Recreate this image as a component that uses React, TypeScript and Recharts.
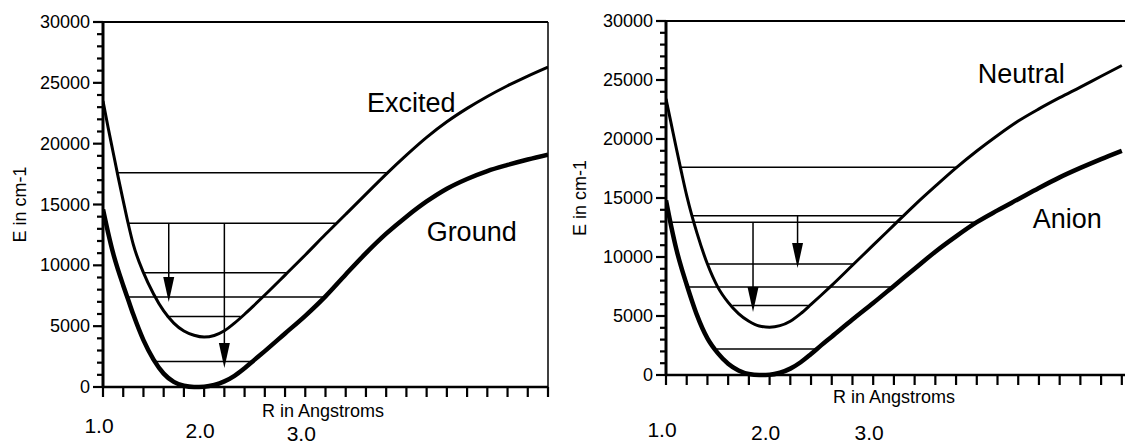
import React from "react";
import {
  LineChart,
  Line,
  XAxis,
  YAxis,
  ReferenceLine,
  ReferenceDot,
  Label,
} from "recharts";

// bond length grid (Angstrom)
const rValues = [
  1.0, 1.05, 1.1, 1.15, 1.2, 1.25, 1.3, 1.4, 1.5, 1.6, 1.7, 1.8, 1.9, 2.0,
  2.1, 2.2, 2.3, 2.4, 2.5, 2.6, 2.8, 3.0, 3.2, 3.4, 3.6, 3.8, 4.0, 4.2, 4.4,
  4.6, 4.8, 5.0, 5.2, 5.4,
];

// left panel, energies in cm-1
const groundCurve = [
  14600, 12700, 11000, 9600, 8350, 7150, 5950, 3850, 2250, 1100, 420, 100, 0,
  30, 170, 460, 920, 1550, 2250, 2950, 4400, 5850, 7450, 9250, 11000, 12600,
  14000, 15250, 16300, 17100, 17750, 18250, 18700, 19100,
];
const excitedCurve = [
  23500, 21350, 19300, 17250, 15300, 13400, 11700, 9400, 7650, 6250, 5250,
  4600, 4250, 4100, 4230, 4620, 5250, 5980, 6760, 7560, 9200, 10850, 12550,
  14200, 15850, 17500, 19060, 20520, 21800, 22900, 23880, 24760, 25560, 26300,
];

// right panel
const anionCurve = [
  14800, 12600, 10650, 9050, 7650, 6300, 5050, 3100, 1850, 950, 380, 80, 0,
  20, 190, 540, 1080, 1780, 2530, 3250, 4700, 6100, 7550, 9000, 10450, 11750,
  12950, 13950, 14900, 15850, 16750, 17550, 18300, 19000,
];
const neutralCurve = [
  23400, 21300, 19200, 17150, 15200, 13500, 12000, 9400, 7450, 6150, 5200,
  4550, 4150, 4050, 4180, 4560, 5200, 5980, 6780, 7600, 9300, 11000, 12700,
  14400, 16000, 17550, 18980, 20300, 21520, 22550, 23500, 24400, 25320, 26230,
];

// vibrational levels: energy, left and right turning points
const leftLevels = [
  { e: 17600, r1: 1.14, r2: 3.81 },
  { e: 13450, r1: 1.245, r2: 3.3 },
  { e: 9400, r1: 1.4, r2: 2.82 },
  { e: 7400, r1: 1.24, r2: 3.18 },
  { e: 5800, r1: 1.63, r2: 2.36 },
  { e: 2100, r1: 1.51, r2: 2.46 },
];
const rightLevels = [
  { e: 17600, r1: 1.135, r2: 3.81 },
  { e: 13500, r1: 1.25, r2: 3.29 },
  { e: 12950, r1: 1.03, r2: 4.0 },
  { e: 9400, r1: 1.4, r2: 2.82 },
  { e: 7450, r1: 1.22, r2: 3.19 },
  { e: 5900, r1: 1.64, r2: 2.37 },
  { e: 2200, r1: 1.49, r2: 2.45 },
];

// transitions
const leftArrows = [
  { r: 1.65, from: 13450, to: 6990 },
  { r: 2.2, from: 13450, to: 1560 },
];
const rightArrows = [
  { r: 1.84, from: 12950, to: 5340 },
  { r: 2.27, from: 13500, to: 9070 },
];

const leftNotes = [
  { text: "Excited", r: 3.61, e: 22600 },
  { text: "Ground", r: 4.2, e: 12000 },
];
const rightNotes = [
  { text: "Neutral", r: 4.01, e: 24750 },
  { text: "Anion", r: 4.54, e: 12460 },
];

const energyTicks = [
  0, 1000, 2000, 3000, 4000, 5000, 6000, 7000, 8000, 9000, 10000, 11000,
  12000, 13000, 14000, 15000, 16000, 17000, 18000, 19000, 20000, 21000, 22000,
  23000, 24000, 25000, 26000, 27000, 28000, 29000, 30000,
];
const rTicks = [
  1.0, 1.2, 1.4, 1.6, 1.8, 2.0, 2.2, 2.4, 2.6, 2.8, 3.0, 3.2, 3.4, 3.6, 3.8,
  4.0, 4.2, 4.4, 4.6, 4.8, 5.0, 5.2, 5.4,
];
const rLabels = [1.0, 2.0, 3.0];

const FONT = "'Liberation Sans', Arial, Helvetica, sans-serif";

const YTick = (props: any) => {
  const { x, y, payload } = props;
  const major = payload.value % 5000 === 0;
  return (
    <g>
      <line x1={x - (major ? 10 : 6)} x2={x} y1={y} y2={y} stroke="#000" strokeWidth={2.2} />
      {major && (
        <text x={x - 13} y={y} dy={6} textAnchor="end" fontSize={18} fill="#000" fontFamily={FONT}>
          {payload.value}
        </text>
      )}
    </g>
  );
};

const XTick = (props: any) => {
  const { x, y, payload, labelDy } = props;
  const idx = rLabels.indexOf(payload.value);
  return (
    <g>
      <line x1={x} x2={x} y1={y} y2={y + 10} stroke="#000" strokeWidth={2.2} />
      {idx >= 0 && (
        <text x={x - 4} y={y + labelDy[idx]} textAnchor="middle" fontSize={21} fill="#000" fontFamily={FONT}>
          {payload.value.toFixed(1)}
        </text>
      )}
    </g>
  );
};

const ArrowShape = (props: any) => {
  const { x1, y1, x2, y2 } = props;
  return (
    <g>
      <line x1={x1} y1={y1} x2={x2} y2={y2 - 20} stroke="#000" strokeWidth={1.5} />
      <polygon points={`${x2 - 5.5},${y2 - 25} ${x2 + 5.5},${y2 - 25} ${x2},${y2}`} fill="#000" />
    </g>
  );
};

interface PanelProps {
  lower: number[];
  upper: number[];
  levels: { e: number; r1: number; r2: number }[];
  arrows: { r: number; from: number; to: number }[];
  notes: { text: string; r: number; e: number }[];
  left: number;
  width: number;
  yAxisWidth: number;
  top: number;
  xAxisHeight: number;
  rightMargin: number;
  rMax: number;
  labelDy: number[];
  titleDx: number;
  titleDy: number;
}

function Panel(p: PanelProps) {
  const data = rValues.map((r, i) => ({ r, lower: p.lower[i], upper: p.upper[i] }));
  return (
    <div style={{ position: "absolute", left: p.left, top: 0 }}>
      <LineChart
        width={p.width}
        height={445}
        data={data}
        margin={{ top: p.top, right: p.rightMargin, bottom: 0, left: 0 }}
      >
        <XAxis
          dataKey="r"
          type="number"
          domain={[1, p.rMax]}
          ticks={rTicks}
          interval={0}
          tickSize={0}
          tickMargin={0}
          tickLine={false}
          height={p.xAxisHeight}
          axisLine={{ stroke: "#000", strokeWidth: 2.5 }}
          tick={<XTick labelDy={p.labelDy} />}
          allowDataOverflow
        >
          <Label
            content={(lp: any) => (
              <text
                x={lp.viewBox.x + p.titleDx}
                y={lp.viewBox.y + p.titleDy}
                fontSize={18}
                fill="#000"
                fontFamily={FONT}
              >
                R in Angstroms
              </text>
            )}
          />
        </XAxis>
        <YAxis
          type="number"
          domain={[0, 30000]}
          ticks={energyTicks}
          interval={0}
          tickSize={0}
          tickMargin={0}
          tickLine={false}
          width={p.yAxisWidth}
          axisLine={{ stroke: "#000", strokeWidth: 3 }}
          tick={<YTick />}
        >
          <Label
            content={(lp: any) => {
              const cx = lp.viewBox.x + 20;
              const cy = lp.viewBox.y + lp.viewBox.height / 2;
              return (
                <text
                  x={cx}
                  y={cy}
                  transform={`rotate(-90, ${cx}, ${cy})`}
                  textAnchor="middle"
                  dominantBaseline="central"
                  fontSize={18}
                  fill="#000"
                  fontFamily={FONT}
                >
                  E in cm-1
                </text>
              );
            }}
          />
        </YAxis>
        <ReferenceLine y={30000} stroke="#000" strokeWidth={2} />
        <ReferenceLine x={p.rMax} stroke="#000" strokeWidth={1.5} />
        {p.levels.map((lv, i) => (
          <ReferenceLine
            key={`lv-${i}`}
            segment={[
              { x: lv.r1, y: lv.e },
              { x: lv.r2, y: lv.e },
            ]}
            stroke="#000"
            strokeWidth={1.5}
          />
        ))}
        {p.arrows.map((a, i) => (
          <ReferenceLine
            key={`ar-${i}`}
            segment={[
              { x: a.r, y: a.from },
              { x: a.r, y: a.to },
            ]}
            shape={ArrowShape}
          />
        ))}
        <Line
          type="monotone"
          dataKey="upper"
          stroke="#000"
          strokeWidth={3}
          dot={false}
          isAnimationActive={false}
        />
        <Line
          type="monotone"
          dataKey="lower"
          stroke="#000"
          strokeWidth={4.5}
          dot={false}
          isAnimationActive={false}
        />
        {p.notes.map((n, i) => (
          <ReferenceDot
            key={`nt-${i}`}
            x={n.r}
            y={n.e}
            r={0}
            shape={(sp: any) => (
              <text x={sp.cx} y={sp.cy} fontSize={27} fill="#000" fontFamily={FONT}>
                {n.text}
              </text>
            )}
          />
        ))}
      </LineChart>
    </div>
  );
}

export default function App() {
  return (
    <div
      style={{
        position: "absolute",
        left: 0,
        top: 0,
        width: 1125,
        height: 445,
        overflow: "hidden",
        background: "#fff",
        fontFamily: FONT,
      }}
    >
      <Panel
        lower={groundCurve}
        upper={excitedCurve}
        levels={leftLevels}
        arrows={leftArrows}
        notes={leftNotes}
        left={0}
        width={560}
        yAxisWidth={103}
        top={22}
        xAxisHeight={58}
        rightMargin={12}
        rMax={5.4}
        labelDy={[46, 51, 54]}
        titleDx={159}
        titleDy={30}
      />
      <Panel
        lower={anionCurve}
        upper={neutralCurve}
        levels={rightLevels}
        arrows={rightArrows}
        notes={rightNotes}
        left={560}
        width={570}
        yAxisWidth={106}
        top={21}
        xAxisHeight={70}
        rightMargin={3}
        rMax={5.45}
        labelDy={[62, 65, 65]}
        titleDx={167}
        titleDy={28}
      />
    </div>
  );
}
